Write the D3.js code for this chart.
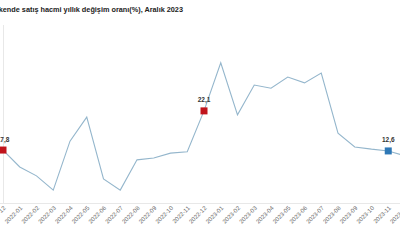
<!DOCTYPE html>
<html>
<head>
<meta charset="utf-8">
<script src="https://cdn.jsdelivr.net/npm/d3@7"></script>
<style>
  body { margin: 0; background: #fff; }
  svg { display: block; font-family: "Liberation Sans", Arial, sans-serif; }
</style>
</head>
<body>
<div id="chart"></div>
<script>
// months shown on the axis
var months = ["2021-12", "2022-01", "2022-02", "2022-03", "2022-04", "2022-05", "2022-06",
  "2022-07", "2022-08", "2022-09", "2022-10", "2022-11", "2022-12", "2023-01", "2023-02",
  "2023-03", "2023-04", "2023-05", "2023-06", "2023-07", "2023-08", "2023-09", "2023-10",
  "2023-11", "2023-12"];

// yearly change (%)
var values = [11.9, 8.1, 6.1, 2.9, 13.9, 19.3, 5.4, 2.9, 9.7, 10.1, 11.2, 11.5, 20.7,
  31.5, 19.8, 26.5, 25.8, 28.3, 27.0, 29.2, 15.7, 12.6, 12.1, 11.7, 10.6];

// highlighted points
var markMonths = ["2021-12", "2022-12", "2023-11"];
var markLabels = ["17,8", "22,1", "12,6"];
var markColors = ["#c0141c", "#c0141c", "#2e78b6"];

var titleText = "Perakende satış hacmi yıllık değişim oranı(%), Aralık 2023";

var svgWidth = 400, svgHeight = 240;

var svg = d3.select("#chart").append("svg")
  .attr("width", svgWidth)
  .attr("height", svgHeight);

var data = months.map(function(m, i) { return { month: m, value: values[i] }; });

var xScale = d3.scalePoint()
  .domain(months)
  .range([3, 405]);

var yScale = d3.scaleLinear()
  .domain([0, 40])
  .range([203, 25]);

// left axis line
svg.append("line")
  .attr("x1", 3.5).attr("x2", 3.5)
  .attr("y1", 25).attr("y2", 203)
  .attr("stroke", "#e8e8e8")
  .attr("stroke-width", 1);

// bottom axis
var xAxis = svg.append("g")
  .attr("transform", "translate(0,203)")
  .call(d3.axisBottom(xScale).tickSize(0).tickPadding(0));

xAxis.select(".domain").attr("stroke", "#e8e8e8").attr("d", "M0,0.5H400");

xAxis.selectAll("text")
  .attr("text-anchor", "end")
  .attr("fill", "#666")
  .attr("font-size", "6px")
  .attr("dy", 0)
  .attr("transform", "translate(2.5,5.5) rotate(-45)");

// line
var line = d3.line()
  .x(function(d) { return xScale(d.month); })
  .y(function(d) { return yScale(d.value); });

svg.append("path")
  .datum(data)
  .attr("fill", "none")
  .attr("stroke", "#94b6cc")
  .attr("stroke-width", 1.1)
  .attr("d", line);

// markers and labels
var marks = markMonths.map(function(m, i) {
  return { month: m, value: values[months.indexOf(m)], label: markLabels[i], color: markColors[i] };
});

svg.selectAll("rect.mark")
  .data(marks)
  .enter()
  .append("rect")
  .attr("class", "mark")
  .attr("x", function(d) { return xScale(d.month) - 3.5; })
  .attr("y", function(d) { return yScale(d.value) - 3.5; })
  .attr("width", 7)
  .attr("height", 7)
  .attr("fill", function(d) { return d.color; });

svg.selectAll("text.mark-label")
  .data(marks)
  .enter()
  .append("text")
  .attr("class", "mark-label")
  .attr("x", function(d) { return xScale(d.month); })
  .attr("y", function(d) { return yScale(d.value) - 8.5; })
  .attr("text-anchor", "middle")
  .attr("font-size", "6.5px")
  .attr("font-weight", "bold")
  .attr("fill", "#333")
  .text(function(d) { return d.label; });

// title, cut at the left edge
svg.append("text")
  .attr("x", 183)
  .attr("y", 12)
  .attr("text-anchor", "end")
  .attr("font-size", "7.3px")
  .attr("font-weight", "bold")
  .attr("fill", "#222")
  .text(titleText);
</script>
</body>
</html>
